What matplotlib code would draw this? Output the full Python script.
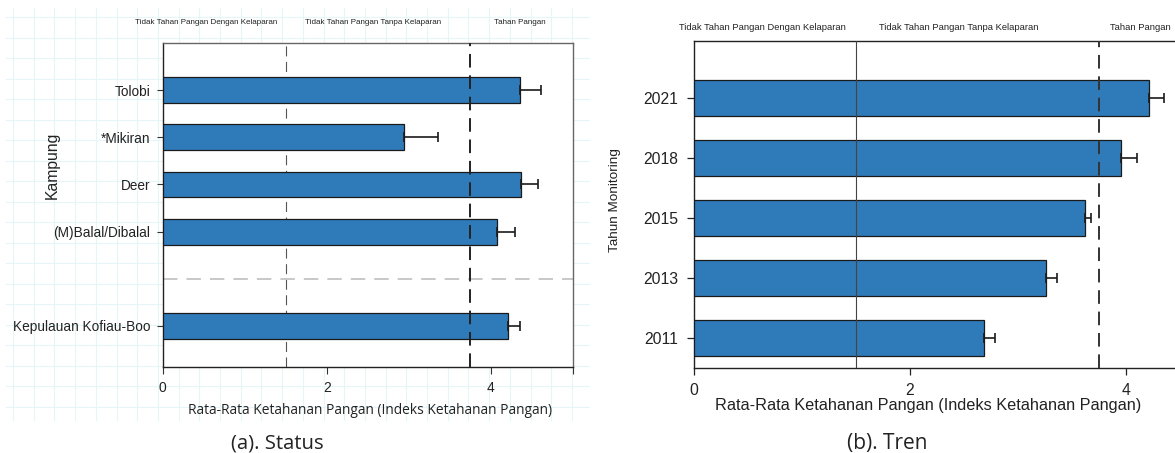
import numpy as np
import matplotlib
matplotlib.use('Agg')
import matplotlib.pyplot as plt
from matplotlib.ticker import FixedLocator

W, H = 1175, 453

# ---- data: (a) Status ----
kampung = ['Kepulauan Kofiau-Boo', '(M)Balal/Dibalal', 'Deer', '*Mikiran', 'Tolobi']
kampung_pos = [0, 2, 3, 4, 5]
status_mean = [4.21, 4.07, 4.37, 2.94, 4.36]
status_err = [0.14, 0.22, 0.20, 0.42, 0.25]

# ---- data: (b) Tren ----
tahun = ['2011', '2013', '2015', '2018', '2021']
tren_mean = [2.69, 3.26, 3.62, 3.96, 4.22]
tren_err = [0.10, 0.10, 0.06, 0.14, 0.13]

kategori = ['Tidak Tahan Pangan Dengan Kelaparan',
            'Tidak Tahan Pangan Tanpa Kelaparan',
            'Tahan Pangan']
batas_bawah = 1.5
batas_atas = 3.75

xlabel = 'Rata-Rata Ketahanan Pangan (Indeks Ketahanan Pangan)'
bar_color = '#2f7bb9'
txt = '#222222'
arial = 'Liberation Sans'
segoe = 'Open Sans'


def fx(px):
    return px / W


def fy(py):
    return 1 - py / H


fig = plt.figure(figsize=(W / 100, H / 100), dpi=100)

# faint graph-paper background behind panel (a)
bg = fig.add_axes([fx(6), fy(421), fx(584), 413 / H], zorder=-5)
bg.set_xlim(0, 584)
bg.set_ylim(413, 0)
bg.xaxis.set_major_locator(FixedLocator(np.arange(7, 584, 20.7)))
bg.yaxis.set_major_locator(FixedLocator(np.arange(9, 413, 20.5)))
bg.grid(True, color='#e6f5f8', lw=0.8)
bg.tick_params(length=0, labelbottom=False, labelleft=False)
for s in bg.spines.values():
    s.set_visible(False)

# ---------------- (a) Status ----------------
ax1 = fig.add_axes([fx(162.6), fy(367), fx(410.4), 324 / H])
ax1.barh(kampung_pos, status_mean, height=0.55, color=bar_color,
         edgecolor='#1a1a1a', linewidth=0.9, zorder=3)
ax1.errorbar(status_mean, kampung_pos, xerr=[np.zeros(len(status_err)), status_err],
             fmt='none', ecolor='#1a1a1a', elinewidth=1.2, capsize=3.6, capthick=1.2, zorder=4)
ax1.axvline(batas_bawah, color='#555555', lw=0.8, ls=(0, (9, 5)), zorder=2)
ax1.axvline(batas_atas, color='#222222', lw=1.4, ls=(0, (7, 4)), zorder=5)
ax1.axhline(1, color='#c4c4c4', lw=1.3, ls=(0, (8, 5)), zorder=2)
ax1.set_xlim(0, 5)
ax1.set_ylim(-0.87, 6.0)
ax1.set_xticks([0, 2, 4, 5])
ax1.set_xticklabels(['0', '2', '4', ''])
ax1.set_yticks(kampung_pos)
ax1.set_yticklabels(kampung, family=arial, fontsize=9.8, color=txt)
for lab in ax1.get_xticklabels():
    lab.set_family(arial)
    lab.set_fontsize(10)
    lab.set_color(txt)
ax1.tick_params(axis='y', length=4, width=0.8, pad=5, color='#333333')
ax1.tick_params(axis='x', length=5, width=0.8, pad=5, color='#333333')
ax1.spines['left'].set_color('#222222')
ax1.spines['bottom'].set_color('#222222')
ax1.spines['top'].set_color('#666666')
ax1.spines['right'].set_color('#666666')
for s in ax1.spines.values():
    s.set_linewidth(1.0)
ax1.set_xlabel(xlabel, family=segoe, fontsize=9.9, color=txt)
ax1.xaxis.set_label_coords((370 - 162.6) / 410.4, -(403 - 367) / 324)
ax1.set_ylabel('Kampung', family=arial, fontsize=11.3, color=txt)
ax1.yaxis.set_label_coords((60 - 162.6) / 410.4, (367 - 165) / 324)

for x, lab in zip([206, 373, 520], kategori):
    fig.text(fx(x), fy(22), lab, family=arial, fontsize=5.8, color=txt,
             ha='center', va='center')
fig.text(fx(277), fy(443), '(a). Status', family=segoe, fontsize=14.6,
         color=txt, ha='center', va='center')

# ---------------- (b) Tren ----------------
ypos = np.arange(len(tahun))
ax2 = fig.add_axes([fx(693.7), fy(367.6), fx(540), 326.9 / H])
ax2.barh(ypos, tren_mean, height=0.6, color=bar_color,
         edgecolor='#1a1a1a', linewidth=0.9, zorder=3)
ax2.errorbar(tren_mean, ypos, xerr=[np.zeros(len(tren_err)), tren_err],
             fmt='none', ecolor='#1a1a1a', elinewidth=1.2, capsize=3.3, capthick=1.2, zorder=4)
ax2.axvline(batas_bawah, color='#444444', lw=0.8, zorder=5)
ax2.axvline(batas_atas, color='#333333', lw=1.4, ls=(0, (7, 4)), zorder=5)
ax2.set_xlim(0, 5)
ax2.set_ylim(-0.5, 4.95)
ax2.set_xticks([0, 2, 4])
ax2.set_yticks(ypos)
ax2.set_yticklabels(tahun, family=arial, fontsize=11.3, color=txt)
for lab in ax2.get_xticklabels():
    lab.set_family(arial)
    lab.set_fontsize(11.3)
    lab.set_color(txt)
ax2.tick_params(axis='y', length=5, width=0.9, pad=6, color='#222222')
ax2.tick_params(axis='x', length=5, width=0.9, pad=6, color='#222222')
for s in ax2.spines.values():
    s.set_color('#222222')
    s.set_linewidth(1.0)
ax2.set_xlabel(xlabel, family=arial, fontsize=11.7, color=txt)
ax2.xaxis.set_label_coords((928 - 693.7) / 540, -(398 - 367.6) / 326.9)
ax2.set_ylabel('Tahun Monitoring', family=arial, fontsize=9.7, color=txt)
ax2.yaxis.set_label_coords((621 - 693.7) / 540, (367.6 - 200) / 326.9)

fig.text(fx(762), fy(27), kategori[0], family=arial, fontsize=6.75, color=txt,
         ha='center', va='center')
fig.text(fx(958.5), fy(27), kategori[1], family=arial, fontsize=6.75, color=txt,
         ha='center', va='center')
fig.text(fx(1110.5), fy(27), kategori[2], family=arial, fontsize=6.75, color=txt,
         ha='left', va='center')
fig.text(fx(887), fy(443), '(b). Tren', family=segoe, fontsize=15,
         color=txt, ha='center', va='center')

fig.savefig('out.png', dpi=100)
